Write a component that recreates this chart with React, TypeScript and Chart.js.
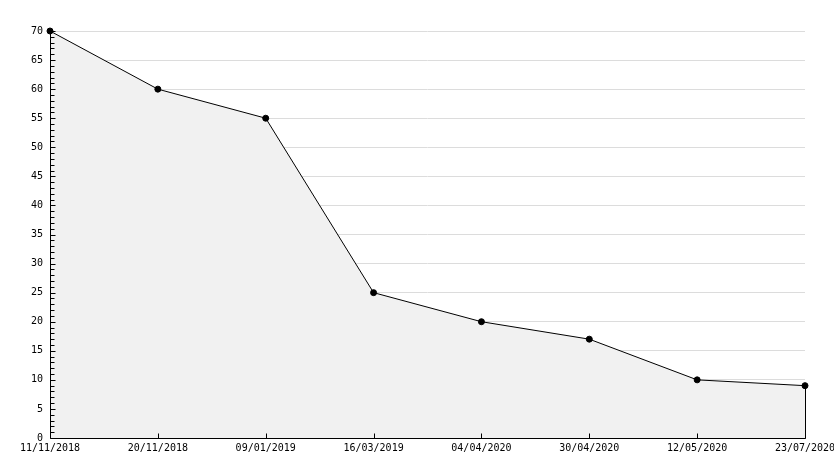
import React, { useEffect, useRef } from "react";
import { Chart, registerables } from "chart.js";

Chart.register(...registerables);

const categories = [
  "11/11/2018",
  "20/11/2018",
  "09/01/2019",
  "16/03/2019",
  "04/04/2020",
  "30/04/2020",
  "12/05/2020",
  "23/07/2020",
];
const values = [70, 60, 55, 25, 20, 17, 10, 9];
const yMin = 0;
const yMax = 70;
const yMajorStep = 5;
const yMinorStep = 1;

const FONT = "'DejaVu Sans Mono', monospace";

const axesPlugin = {
  id: "axesPlugin",
  afterDatasetsDraw(chart: any) {
    const { ctx, chartArea, scales } = chart;
    const x = scales.x;
    const y = scales.y;
    const left = Math.round(chartArea.left) + 0.5;
    const bottom = Math.round(chartArea.bottom) + 0.5;
    ctx.save();
    ctx.strokeStyle = "#000";
    ctx.lineWidth = 1;
    ctx.beginPath();
    ctx.moveTo(left, Math.round(y.getPixelForValue(yMax)));
    ctx.lineTo(left, bottom);
    ctx.moveTo(left, bottom);
    ctx.lineTo(Math.round(chartArea.right) + 0.5, bottom);
    for (let v = yMin; v <= yMax; v += yMinorStep) {
      const py = Math.round(y.getPixelForValue(v)) + 0.5;
      const len = v % yMajorStep === 0 ? 5 : 4;
      ctx.moveTo(left, py);
      ctx.lineTo(left + len, py);
    }
    for (let i = 1; i < categories.length; i++) {
      const px = Math.round(x.getPixelForValue(i)) + 0.5;
      ctx.moveTo(px, bottom);
      ctx.lineTo(px, bottom - 5);
    }
    const last = values.length - 1;
    const lx = Math.round(x.getPixelForValue(last)) + 0.5;
    ctx.moveTo(lx, y.getPixelForValue(values[last]));
    ctx.lineTo(lx, bottom);
    ctx.stroke();
    ctx.restore();
  },
};

export default function App() {
  const ref = useRef<HTMLCanvasElement | null>(null);

  useEffect(() => {
    document.body.style.margin = "0";
    const canvas = ref.current;
    if (!canvas) return;
    const chart = new Chart(canvas, {
      type: "line",
      data: {
        labels: categories,
        datasets: [
          {
            data: values,
            borderColor: "#000",
            borderWidth: 1,
            backgroundColor: "#f1f1f1",
            fill: "origin",
            tension: 0,
            clip: false,
            pointRadius: 3,
            pointBackgroundColor: "#000",
            pointBorderColor: "#000",
            pointBorderWidth: 1,
            pointStyle: "circle",
          },
        ],
      },
      options: {
        responsive: false,
        animation: false,
        events: [],
        layout: { padding: { left: 0, right: 29, top: 31, bottom: 0 } },
        plugins: {
          legend: { display: false },
          tooltip: { enabled: false },
        },
        scales: {
          x: {
            type: "category",
            offset: false,
            grid: { display: false, drawTicks: false },
            border: { display: false },
            ticks: {
              color: "#000",
              font: { family: FONT, size: 10 },
              padding: 4,
              maxRotation: 0,
              minRotation: 0,
              autoSkip: false,
            },
            afterFit: (scale: any) => {
              scale.height = 30;
              scale.paddingLeft = 0;
              scale.paddingRight = 0;
            },
          },
          y: {
            min: yMin,
            max: yMax,
            grid: {
              color: "#dcdcdc",
              drawTicks: false,
              lineWidth: 1,
            },
            border: { display: false },
            ticks: {
              stepSize: yMajorStep,
              color: "#000",
              font: { family: FONT, size: 10 },
              padding: 7,
            },
            afterFit: (scale: any) => {
              scale.width = 50;
              scale.paddingTop = 0;
              scale.paddingBottom = 0;
            },
          },
        },
      },
      plugins: [axesPlugin],
    });
    return () => chart.destroy();
  }, []);

  return (
    <div style={{ position: "absolute", left: 0, top: 0, width: 834, height: 468, background: "#fff" }}>
      <canvas ref={ref} width={834} height={468} />
    </div>
  );
}
